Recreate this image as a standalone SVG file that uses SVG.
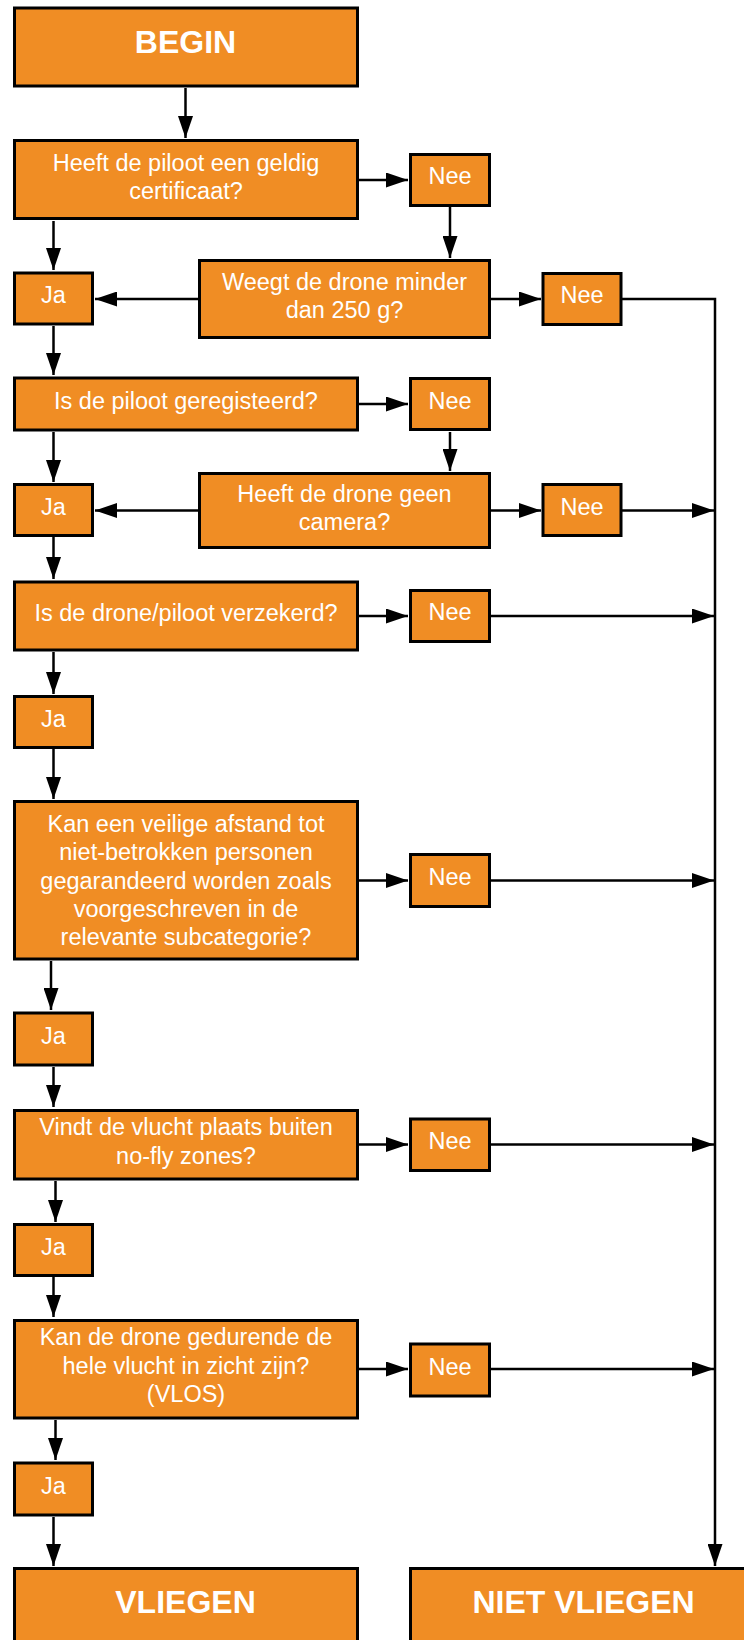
<svg xmlns="http://www.w3.org/2000/svg" width="744" height="1640" viewBox="0 0 744 1640">
<defs>
<style>
.box{fill:#F08D24;stroke:#000;stroke-width:3}
.t{font-family:"Liberation Sans",Arial,sans-serif;font-size:23.5px;fill:#fff;text-anchor:middle}
.b{font-family:"Liberation Sans",Arial,sans-serif;font-size:32px;font-weight:bold;fill:#fff;text-anchor:middle}
.c{fill:none;stroke:#000;stroke-width:2.5}
</style>
<marker id="ah" markerUnits="userSpaceOnUse" markerWidth="22" markerHeight="15" refX="22" refY="7.5" orient="auto">
<path d="M0,0 L22,7.5 L0,15 z" fill="#000"/>
</marker>
</defs>
<rect width="744" height="1640" fill="#fff"/>
<g id="connectors">
<path class="c" marker-end="url(#ah)" d="M185.5,88 V138"/>
<path class="c" marker-end="url(#ah)" d="M358,180 H408"/>
<path class="c" marker-end="url(#ah)" d="M450,207 V258"/>
<path class="c" marker-end="url(#ah)" d="M53.5,221 V270"/>
<path class="c" marker-end="url(#ah)" d="M198,299 H95"/>
<path class="c" marker-end="url(#ah)" d="M490,299 H541"/>
<path class="c" marker-end="url(#ah)" d="M622,299 H715 V1566"/>
<path class="c" marker-end="url(#ah)" d="M53.5,326 V375"/>
<path class="c" marker-end="url(#ah)" d="M358,404 H408"/>
<path class="c" marker-end="url(#ah)" d="M450,432 V471"/>
<path class="c" marker-end="url(#ah)" d="M53.5,432 V482"/>
<path class="c" marker-end="url(#ah)" d="M198,510.5 H95"/>
<path class="c" marker-end="url(#ah)" d="M490,510.5 H541"/>
<path class="c" marker-end="url(#ah)" d="M622,510.5 H714"/>
<path class="c" marker-end="url(#ah)" d="M53.5,537 V579"/>
<path class="c" marker-end="url(#ah)" d="M358,616 H408"/>
<path class="c" marker-end="url(#ah)" d="M490,616 H714"/>
<path class="c" marker-end="url(#ah)" d="M53.5,652 V694"/>
<path class="c" marker-end="url(#ah)" d="M53.5,749 V799"/>
<path class="c" marker-end="url(#ah)" d="M358,880.5 H408"/>
<path class="c" marker-end="url(#ah)" d="M490,880.5 H714"/>
<path class="c" marker-end="url(#ah)" d="M51,961 V1010"/>
<path class="c" marker-end="url(#ah)" d="M53.5,1067 V1107"/>
<path class="c" marker-end="url(#ah)" d="M358,1144.5 H408"/>
<path class="c" marker-end="url(#ah)" d="M490,1144.5 H714"/>
<path class="c" marker-end="url(#ah)" d="M55.5,1181 V1222"/>
<path class="c" marker-end="url(#ah)" d="M53.5,1277 V1317"/>
<path class="c" marker-end="url(#ah)" d="M358,1369 H408"/>
<path class="c" marker-end="url(#ah)" d="M490,1369 H714"/>
<path class="c" marker-end="url(#ah)" d="M55.5,1420 V1460"/>
<path class="c" marker-end="url(#ah)" d="M53.5,1517 V1566"/>
</g>
<g id="begin"><rect class="box" x="14.5" y="8" width="343" height="78"/><text class="b" x="185.5" y="53">BEGIN</text></g>
<g id="q1"><rect class="box" x="14.5" y="140.5" width="343" height="78"/><text class="t" x="186" y="171">Heeft de piloot een geldig</text><text class="t" x="186" y="198.5">certificaat?</text></g>
<g id="nee1"><rect class="box" x="410.5" y="154.5" width="79" height="51"/><text class="t" x="450" y="184">Nee</text></g>
<g id="q2"><rect class="box" x="199.5" y="260.5" width="290" height="77"/><text class="t" x="344.5" y="289.5">Weegt de drone minder</text><text class="t" x="344.5" y="317.5">dan 250 g?</text></g>
<g id="ja1"><rect class="box" x="14.5" y="273" width="78" height="51"/><text class="t" x="53.5" y="303">Ja</text></g>
<g id="nee2"><rect class="box" x="543" y="273.5" width="78" height="51"/><text class="t" x="582" y="303">Nee</text></g>
<g id="q3"><rect class="box" x="14.5" y="378" width="343" height="52"/><text class="t" x="186" y="408.5">Is de piloot geregisteerd?</text></g>
<g id="nee3"><rect class="box" x="410.5" y="378.5" width="79" height="51"/><text class="t" x="450" y="408.5">Nee</text></g>
<g id="q4"><rect class="box" x="199.5" y="473.5" width="290" height="74"/><text class="t" x="344.5" y="502">Heeft de drone geen</text><text class="t" x="344.5" y="530">camera?</text></g>
<g id="ja2"><rect class="box" x="14.5" y="484.5" width="78" height="51"/><text class="t" x="53.5" y="514.5">Ja</text></g>
<g id="nee4"><rect class="box" x="543" y="484.5" width="78" height="51"/><text class="t" x="582" y="514.5">Nee</text></g>
<g id="q5"><rect class="box" x="14.5" y="582" width="343" height="68"/><text class="t" x="186" y="621">Is de drone/piloot verzekerd?</text></g>
<g id="nee5"><rect class="box" x="410.5" y="590.5" width="79" height="51"/><text class="t" x="450" y="619.5">Nee</text></g>
<g id="ja3"><rect class="box" x="14.5" y="696.5" width="78" height="51"/><text class="t" x="53.5" y="726.5">Ja</text></g>
<g id="q6"><rect class="box" x="14.5" y="801.5" width="343" height="157.5"/><text class="t" x="186" y="832">Kan een veilige afstand tot</text><text class="t" x="186" y="860">niet-betrokken personen</text><text class="t" x="186" y="888.5">gegarandeerd worden zoals</text><text class="t" x="186" y="917">voorgeschreven in de</text><text class="t" x="186" y="945">relevante subcategorie?</text></g>
<g id="nee6"><rect class="box" x="410.5" y="854.5" width="79" height="52"/><text class="t" x="450" y="885">Nee</text></g>
<g id="ja4"><rect class="box" x="14.5" y="1013" width="78" height="52"/><text class="t" x="53.5" y="1043.5">Ja</text></g>
<g id="q7"><rect class="box" x="14.5" y="1110.5" width="343" height="68.5"/><text class="t" x="186" y="1135">Vindt de vlucht plaats buiten</text><text class="t" x="186" y="1163.5">no-fly zones?</text></g>
<g id="nee7"><rect class="box" x="410.5" y="1119" width="79" height="51.5"/><text class="t" x="450" y="1149">Nee</text></g>
<g id="ja5"><rect class="box" x="14.5" y="1224.5" width="78" height="51"/><text class="t" x="53.5" y="1254.5">Ja</text></g>
<g id="q8"><rect class="box" x="14.5" y="1320.5" width="343" height="97.5"/><text class="t" x="186" y="1345">Kan de drone gedurende de</text><text class="t" x="186" y="1373.5">hele vlucht in zicht zijn?</text><text class="t" x="186" y="1402">(VLOS)</text></g>
<g id="nee8"><rect class="box" x="410.5" y="1344" width="79" height="52"/><text class="t" x="450" y="1374.5">Nee</text></g>
<g id="ja6"><rect class="box" x="14.5" y="1463" width="78" height="52"/><text class="t" x="53.5" y="1493.5">Ja</text></g>
<g id="vliegen"><rect class="box" x="14.5" y="1568.5" width="343" height="80"/><text class="b" x="185.5" y="1613">VLIEGEN</text></g>
<g id="niet-vliegen"><rect class="box" x="410.5" y="1568.5" width="346" height="80"/><text class="b" x="583.5" y="1613">NIET VLIEGEN</text></g>
</svg>
